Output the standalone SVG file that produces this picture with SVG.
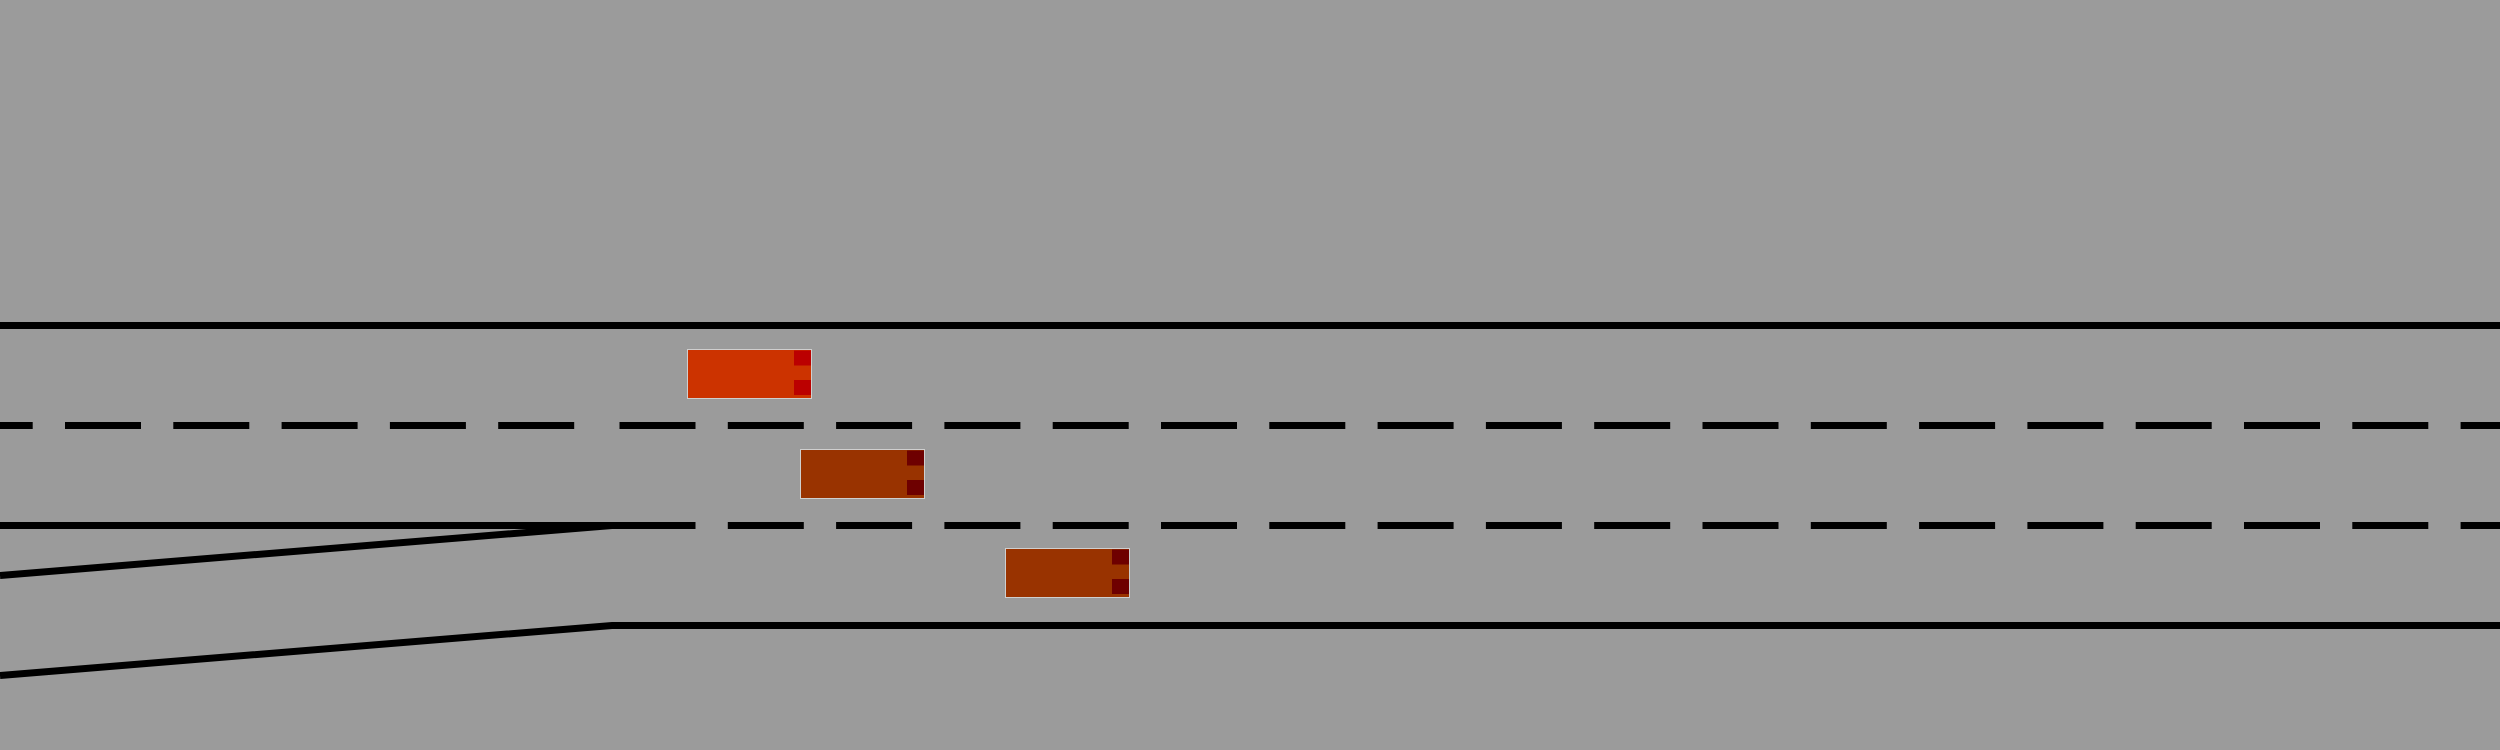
<svg xmlns="http://www.w3.org/2000/svg" width="2500" height="750" viewBox="0 0 2500 750">
  <style>
    .mark { stroke: #000; stroke-width: 7; fill: none; }
    .dash { stroke-dasharray: 76 32.3; }
    .body { stroke: #cfcfcf; stroke-width: 1; }
    .ego .body { fill: #cc3300; }
    .ego .light { fill: #bb0000; }
    .other .body { fill: #993300; }
    .other .light { fill: #6e0000; }
  </style>
  <rect x="0" y="0" width="2500" height="750" fill="#9b9b9b"/>
  <g id="road">
    <line class="mark" x1="0" y1="325.5" x2="2500" y2="325.5"/>
    <line class="mark dash" x1="0" y1="425.5" x2="600" y2="425.5" stroke-dashoffset="43.3"/>
    <line class="mark dash" x1="619.5" y1="425.5" x2="2500" y2="425.5"/>
    <line class="mark" x1="0" y1="525.5" x2="620" y2="525.5"/>
    <line class="mark dash" x1="619.5" y1="525.5" x2="2500" y2="525.5"/>
    <line class="mark" x1="0" y1="575.5" x2="612" y2="525.5"/>
    <polyline class="mark" points="0,675.5 612,625.5 2500,625.5"/>
  </g>
  <g id="car1" class="ego" transform="translate(687,349)">
    <rect class="body" x="0.5" y="0.5" width="124" height="49"/>
    <rect class="light" x="107" y="1.5" width="17" height="15"/>
    <rect class="light" x="107" y="31" width="17" height="15"/>
  </g>
  <g id="car2" class="other" transform="translate(800,449)">
    <rect class="body" x="0.5" y="0.5" width="124" height="49"/>
    <rect class="light" x="107" y="1.5" width="17" height="15"/>
    <rect class="light" x="107" y="31" width="17" height="15"/>
  </g>
  <g id="car3" class="other" transform="translate(1005,548)">
    <rect class="body" x="0.5" y="0.5" width="124" height="49"/>
    <rect class="light" x="107" y="1.5" width="17" height="15"/>
    <rect class="light" x="107" y="31" width="17" height="15"/>
  </g>
</svg>
